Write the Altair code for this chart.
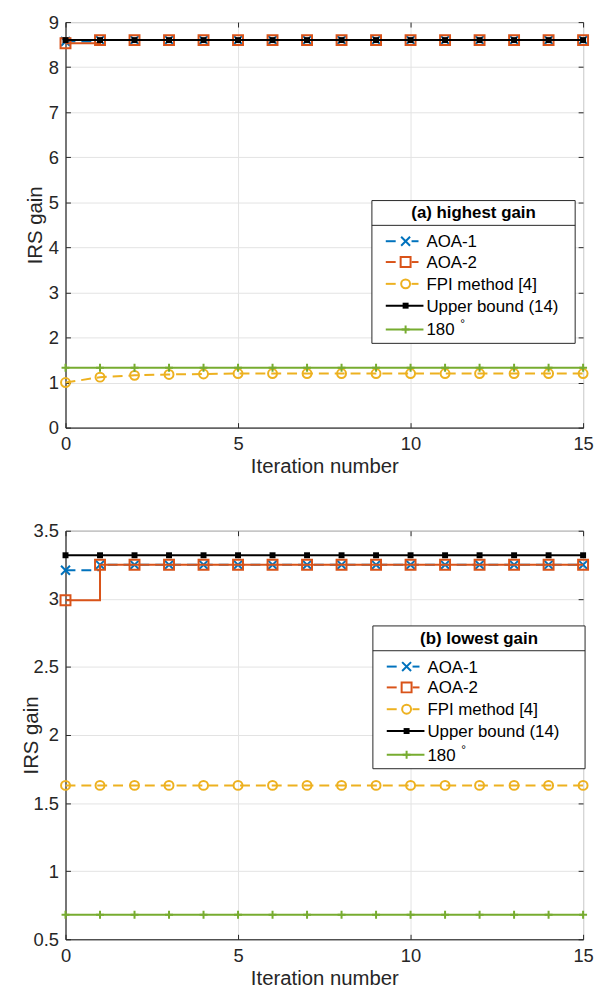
import altair as alt
import pandas as pd

# ---------------- data ----------------
iterations = [0, 1, 2, 3, 4, 5, 6, 7, 8, 9, 10, 11, 12, 13, 14, 15]

series_names = ["AOA-1", "AOA-2", "FPI method [4]", "Upper bound (14)", "180"]

# (a) highest gain
a_aoa1 = [8.57, 8.60, 8.60, 8.60, 8.60, 8.60, 8.60, 8.60, 8.60, 8.60, 8.60, 8.60, 8.60, 8.60, 8.60, 8.60]
a_aoa2 = [8.53, 8.60, 8.60, 8.60, 8.60, 8.60, 8.60, 8.60, 8.60, 8.60, 8.60, 8.60, 8.60, 8.60, 8.60, 8.60]
a_fpi = [1.00, 1.12, 1.16, 1.18, 1.19, 1.20, 1.20, 1.20, 1.20, 1.20, 1.20, 1.20, 1.20, 1.20, 1.20, 1.20]
a_ub = [8.60, 8.60, 8.60, 8.60, 8.60, 8.60, 8.60, 8.60, 8.60, 8.60, 8.60, 8.60, 8.60, 8.60, 8.60, 8.60]
a_180 = [1.33, 1.33, 1.33, 1.33, 1.33, 1.33, 1.33, 1.33, 1.33, 1.33, 1.33, 1.33, 1.33, 1.33, 1.33, 1.33]

# (b) lowest gain
b_aoa1 = [3.21, 3.25, 3.25, 3.25, 3.25, 3.25, 3.25, 3.25, 3.25, 3.25, 3.25, 3.25, 3.25, 3.25, 3.25, 3.25]
b_aoa2 = [2.99, 3.25, 3.25, 3.25, 3.25, 3.25, 3.25, 3.25, 3.25, 3.25, 3.25, 3.25, 3.25, 3.25, 3.25, 3.25]
b_fpi = [1.63, 1.63, 1.63, 1.63, 1.63, 1.63, 1.63, 1.63, 1.63, 1.63, 1.63, 1.63, 1.63, 1.63, 1.63, 1.63]
b_ub = [3.32, 3.32, 3.32, 3.32, 3.32, 3.32, 3.32, 3.32, 3.32, 3.32, 3.32, 3.32, 3.32, 3.32, 3.32, 3.32]
b_180 = [0.68, 0.68, 0.68, 0.68, 0.68, 0.68, 0.68, 0.68, 0.68, 0.68, 0.68, 0.68, 0.68, 0.68, 0.68, 0.68]

x_ticks = [0, 5, 10, 15]
a_yticks = [0, 1, 2, 3, 4, 5, 6, 7, 8, 9]
b_yticks = [0.5, 1, 1.5, 2, 2.5, 3, 3.5]

# ---------------- styling ----------------
FONT = "Liberation Sans"
TXT = "#262626"
BLUE = "#0072BD"
ORANGE = "#D95319"
YELLOW = "#EDB120"
BLACK = "#000000"
GREEN = "#77AC30"

X_PATH = "M-1,-1L1,1M-1,1L1,-1"
PLUS_PATH = "M-1,0L1,0M0,-1L0,1"

# name: color, dashed, interpolate, shape, size, filled
styles = {
    "AOA-1": (BLUE, True, "step-after", X_PATH, 81, False),
    "AOA-2": (ORANGE, False, "step-after", "square", 100, False),
    "FPI method [4]": (YELLOW, True, "linear", "circle", 81, False),
    "Upper bound (14)": (BLACK, False, "linear", "square", 36, True),
    "180": (GREEN, False, "linear", PLUS_PATH, 64, False),
}

W = 522
DASH = [10, 6]


def panel(values_list, ydomain, yticks, leg_title, box_left, box_top, box_w, H, ytitle_pad):
    x_scale = alt.Scale(domain=[0, 15], nice=False, zero=False)
    y_scale = alt.Scale(domain=ydomain, nice=False, zero=False)

    x_axes = [
        alt.Axis(values=x_ticks, title="Iteration number", grid=True, ticks=False, tickSize=0,
                 domain=True, labelPadding=7, titlePadding=4, labelFlush=False),
        alt.Axis(orient="top", offset=-H, values=x_ticks, labels=False, domain=False,
                 grid=False, ticks=True, tickSize=5, title=None),
        alt.Axis(orient="bottom", offset=-H, values=x_ticks, labels=False, domain=False,
                 grid=False, ticks=True, tickSize=5, title=None),
    ]
    y_axes = [
        alt.Axis(values=yticks, title="IRS gain", format="~g", grid=True, ticks=False, tickSize=0,
                 domain=True, labelPadding=7, titlePadding=ytitle_pad),
        alt.Axis(orient="right", offset=-W, values=yticks, labels=False, domain=False,
                 grid=False, ticks=True, tickSize=5, title=None),
        alt.Axis(orient="left", offset=-W, values=yticks, labels=False, domain=False,
                 grid=False, ticks=True, tickSize=5, title=None),
    ]

    layers = []
    k = 0
    for name, vals in zip(series_names, values_list):
        color, dashed, interp, shape, size, filled = styles[name]
        df = pd.DataFrame({"it": iterations, "v": vals})
        xa = x_axes[k] if k < len(x_axes) else None
        ya = y_axes[k] if k < len(y_axes) else None
        k += 1
        line_kw = dict(color=color, strokeWidth=2, interpolate=interp)
        if dashed:
            line_kw["strokeDash"] = DASH
        line = alt.Chart(df).mark_line(**line_kw).encode(
            x=alt.X("it:Q", scale=x_scale, axis=xa),
            y=alt.Y("v:Q", scale=y_scale, axis=ya),
        )
        pts = alt.Chart(df).mark_point(
            shape=shape, size=size, filled=filled, color=color, strokeWidth=2, opacity=1
        ).encode(
            x=alt.X("it:Q", scale=x_scale, axis=None),
            y=alt.Y("v:Q", scale=y_scale, axis=None),
        )
        layers += [line, pts]

    # ---- legend box ----
    one = pd.DataFrame({"k": [0]})
    box_h = 144
    row_off = [41, 62, 84, 106, 130]
    layers.append(
        alt.Chart(one).mark_rect(fill="white", stroke=TXT, strokeWidth=1).encode(
            x=alt.value(box_left), x2=alt.value(box_left + box_w),
            y=alt.value(box_top), y2=alt.value(box_top + box_h))
    )
    layers.append(
        alt.Chart(one).mark_text(fontSize=17, fontWeight="bold", align="center",
                                 baseline="middle", color=BLACK).encode(
            x=alt.value(box_left + box_w / 2), y=alt.value(box_top + 13), text=alt.value(leg_title))
    )
    layers.append(
        alt.Chart(one).mark_rule(color=TXT, strokeWidth=1).encode(
            x=alt.value(box_left), x2=alt.value(box_left + box_w), y=alt.value(box_top + 25))
    )
    for i, name in enumerate(series_names):
        color, dashed, interp, shape, size, filled = styles[name]
        ry = box_top + row_off[i]
        if dashed or name == "AOA-2":
            segs = [(14, 24), (40, 47)]
        else:
            segs = [(14, 52)]
        for s0, s1 in segs:
            layers.append(
                alt.Chart(one).mark_rule(color=color, strokeWidth=2).encode(
                    x=alt.value(box_left + s0), x2=alt.value(box_left + s1), y=alt.value(ry))
            )
        layers.append(
            alt.Chart(one).mark_point(shape=shape, size=size, filled=filled, color=color,
                                      strokeWidth=2, opacity=1).encode(
                x=alt.value(box_left + 34), y=alt.value(ry))
        )
        layers.append(
            alt.Chart(one).mark_text(fontSize=17, align="left", baseline="middle",
                                     color=BLACK).encode(
                x=alt.value(box_left + 55), y=alt.value(ry + 1), text=alt.value(name))
        )
        if name == "180":
            layers.append(
                alt.Chart(one).mark_text(fontSize=12, align="left", baseline="middle",
                                         color=BLACK).encode(
                    x=alt.value(box_left + 89), y=alt.value(ry - 5), text=alt.value("°"))
            )

    return alt.layer(*layers).resolve_axis(x="independent", y="independent").properties(
        width=W, height=H)


top = panel([a_aoa1, a_aoa2, a_fpi, a_ub, a_180], [0, 9], a_yticks,
            "(a) highest gain", 309, 180, 205, 409, 3)
bottom = panel([b_aoa1, b_aoa2, b_fpi, b_ub, b_180], [0.5, 3.5], b_yticks,
               "(b) lowest gain", 310, 96, 214, 412, -8)

chart = alt.vconcat(top, bottom, spacing=104, bounds="flush").properties(
    padding={"left": 12, "top": 0, "right": 0, "bottom": 0}
).configure(font=FONT).configure_view(
    stroke="#4d4d4d", strokeWidth=1
).configure_axis(
    labelFont=FONT, titleFont=FONT, labelFontSize=18.5, titleFontSize=20.5,
    labelColor=TXT, titleColor=TXT, titleFontWeight="normal",
    gridColor="#e3e3e3", gridWidth=1, domainColor=TXT, domainWidth=1,
    tickColor=TXT, tickWidth=1,
)

chart.save("out.html", embed_options={"renderer": "svg", "actions": False})
